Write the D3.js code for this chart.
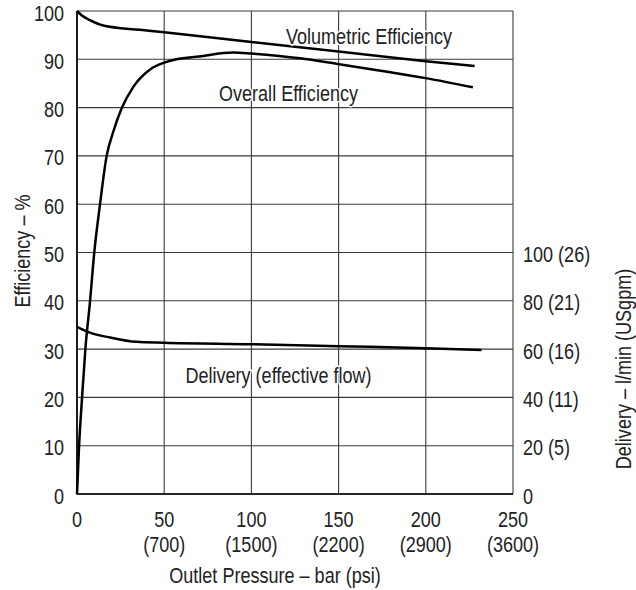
<!DOCTYPE html>
<html>
<head>
<meta charset="utf-8">
<script src="https://cdn.jsdelivr.net/npm/d3@7"></script>
<style>
  html, body { margin: 0; padding: 0; background: #fff; }
  svg { display: block; }
  text { font-family: "Liberation Sans", Arial, sans-serif; fill: #222; }
</style>
</head>
<body>
<svg id="chart" width="636" height="590"></svg>
<script>
// Pump performance vs outlet pressure (bar)
const volPressure = [0, 3, 7.4, 15, 36, 50, 100, 150, 200, 228];
const volEfficiency = [100, 99.0, 98.1, 97.0, 96.1, 95.6, 93.6, 91.6, 89.6, 88.6];

const overallPressure = [0, 1.2, 2.9, 4.8, 7.5, 9.9, 13.2, 17, 20.8, 25.8, 32.3, 41.9, 50, 57, 70, 89.6, 100, 116, 128, 150, 175, 200, 227];
const overallEfficiency = [0, 10, 20, 30, 40, 50, 60, 70, 75, 80, 84.3, 87.9, 89.3, 90.0, 90.6, 91.4, 91.2, 90.7, 90.2, 89.0, 87.6, 86.1, 84.2];

// delivery in l/min
const deliveryPressure = [0, 7.4, 19, 34, 50, 100, 150, 200, 232];
const deliveryFlow = [69.2, 66.8, 64.8, 63.0, 62.6, 62.0, 61.2, 60.4, 59.6];

const xTicks = [0, 50, 100, 150, 200, 250];
const psiLabels = ["", "(700)", "(1500)", "(2200)", "(2900)", "(3600)"];
const effTicks = [0, 10, 20, 30, 40, 50, 60, 70, 80, 90, 100];
const flowTicks = [0, 20, 40, 60, 80, 100];
const flowLabels = ["0", "20 (5)", "40 (11)", "60 (16)", "80 (21)", "100 (26)"];

const svg = d3.select("#chart");
const x = d3.scaleLinear().domain([0, 250]).range([77, 513]);
const y = d3.scaleLinear().domain([0, 100]).range([494, 11]);
const yFlow = d3.scaleLinear().domain([0, 200]).range([494, 11]);

const fontSize = 22;
const narrow = 0.82; // horizontal squeeze for a condensed face

// place a text at (px, py), squeezed horizontally, optionally rotated
function addText(parent, px, py, str, anchor, rot) {
  return parent.append("text")
    .attr("transform", `translate(${px},${py})${rot ? ` rotate(${rot})` : ""} scale(${narrow},1)`)
    .attr("text-anchor", anchor)
    .attr("font-size", fontSize)
    .text(str);
}

// grid
const grid = svg.append("g").attr("stroke", "#3a3a3a").attr("stroke-width", 1.1);
grid.selectAll("line.h").data(effTicks).join("line")
  .attr("x1", x(0)).attr("x2", x(250))
  .attr("y1", d => y(d)).attr("y2", d => y(d));
grid.selectAll("line.v").data(xTicks).join("line")
  .attr("x1", d => x(d)).attr("x2", d => x(d))
  .attr("y1", y(0)).attr("y2", y(100));

// left and bottom axis lines
svg.append("path")
  .attr("d", `M${x(0)},${y(100)}V${y(0)}H${x(250)}`)
  .attr("fill", "none").attr("stroke", "#000").attr("stroke-width", 1.6);

// tick labels
const ticks = svg.append("g");
effTicks.forEach(d => addText(ticks, x(0) - 13, y(d) + 9.5, d3.format("d")(d), "end"));
flowTicks.forEach((d, i) => addText(ticks, x(250) + 10, yFlow(d) + 9.5, flowLabels[i], "start"));
xTicks.forEach((d, i) => {
  addText(ticks, x(d), 527, d3.format("d")(d), "middle");
  if (psiLabels[i]) addText(ticks, x(d), 551.5, psiLabels[i], "middle");
});

// axis titles
addText(svg, 29.5, 251, "Efficiency – %", "middle", -90);
addText(svg, 631, 369, "Delivery – l/min (USgpm)", "middle", -90);
addText(svg, 275, 583, "Outlet Pressure – bar (psi)", "middle");

// curves
const line = d3.line().curve(d3.curveMonotoneX);
const curves = [
  volPressure.map((p, i) => [x(p), y(volEfficiency[i])]),
  overallPressure.map((p, i) => [x(p), y(overallEfficiency[i])]),
  deliveryPressure.map((p, i) => [x(p), yFlow(deliveryFlow[i])])
];
svg.append("g").selectAll("path").data(curves).join("path")
  .attr("d", d => line(d))
  .attr("fill", "none").attr("stroke", "#000").attr("stroke-width", 2.5)
  .attr("stroke-linejoin", "round");

// curve labels with a thin white halo
const labels = [
  { t: "Volumetric Efficiency", x: 369, y: 43.5 },
  { t: "Overall Efficiency", x: 288.5, y: 100.5 },
  { t: "Delivery (effective flow)", x: 278.5, y: 383 }
];
const lg = svg.append("g");
labels.forEach(d => addText(lg, d.x, d.y, d.t, "middle")
  .attr("stroke", "#fff").attr("stroke-width", 3).attr("paint-order", "stroke"));
</script>
</body>
</html>
